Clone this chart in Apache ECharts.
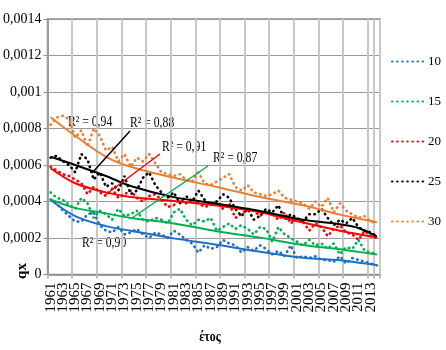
<!DOCTYPE html>
<html>
<head>
<meta charset="utf-8">
<script src="https://cdn.jsdelivr.net/npm/echarts@6/dist/echarts.min.js"></script>
<style>html,body{margin:0;padding:0;background:#fff}#c{width:446px;height:350px}</style>
</head>
<body>
<div id="c"></div>
<script>
// Categories (years)
const years = [];
for (let y = 1961; y <= 2014; y++) years.push(String(y));

// Data series (qx)
const q10 = [4.1e-4,3.9e-4,3.5e-4,3.2e-4,2.9e-4,2.9e-4,3.3e-4,3.4e-4,2.7e-4,2.4e-4,
  2.3e-4,2.6e-4,2.2e-4,2.3e-4,2.5e-4,2.2e-4,2.0e-4,2.3e-4,2.2e-4,2.0e-4,
  2.4e-4,2.2e-4,1.9e-4,1.7e-4,1.2e-4,1.6e-4,1.4e-4,1.5e-4,1.9e-4,1.7e-4,
  1.6e-4,1.2e-4,1.5e-4,1.3e-4,1.6e-4,1.4e-4,1.1e-4,1.3e-4,1.0e-4,1.6e-4,
  0.9e-4,1.0e-4,0.9e-4,1.0e-4,0.8e-4,0.8e-4,0.7e-4,1.0e-4,0.6e-4,0.9e-4,
  0.8e-4,0.7e-4,0.6e-4,0.5e-4];
const q15 = [4.5e-4,4.2e-4,4.1e-4,3.8e-4,3.6e-4,4.2e-4,3.9e-4,3.1e-4,3.5e-4,3.3e-4,
  3.0e-4,3.6e-4,3.2e-4,3.3e-4,3.5e-4,3.0e-4,2.9e-4,3.1e-4,3.0e-4,2.8e-4,
  3.4e-4,3.6e-4,3.0e-4,2.7e-4,3.0e-4,2.9e-4,3.1e-4,2.4e-4,2.6e-4,2.8e-4,
  2.5e-4,2.7e-4,2.5e-4,2.2e-4,2.6e-4,2.5e-4,1.8e-4,2.6e-4,2.2e-4,2.0e-4,
  1.8e-4,1.6e-4,1.9e-4,1.6e-4,1.7e-4,1.4e-4,1.7e-4,1.1e-4,1.5e-4,1.4e-4,
  1.9e-4,1.3e-4,1.2e-4,1.1e-4];
const q20 = [5.9e-4,5.7e-4,5.5e-4,5.4e-4,5.2e-4,5.0e-4,4.4e-4,4.8e-4,4.5e-4,4.3e-4,
  4.7e-4,4.2e-4,4.4e-4,4.6e-4,4.2e-4,4.0e-4,4.3e-4,4.4e-4,4.1e-4,3.7e-4,
  3.8e-4,4.1e-4,3.9e-4,4.2e-4,3.9e-4,3.7e-4,3.8e-4,4.0e-4,3.6e-4,3.9e-4,
  3.1e-4,3.3e-4,3.6e-4,3.5e-4,3.2e-4,3.5e-4,3.3e-4,3.0e-4,3.4e-4,2.8e-4,
  3.1e-4,2.9e-4,2.4e-4,2.8e-4,2.6e-4,2.1e-4,2.5e-4,2.7e-4,2.3e-4,2.2e-4,
  1.9e-4,2.4e-4,2.1e-4,2.0e-4];
const q25 = [6.4e-4,6.5e-4,6.2e-4,6.0e-4,5.6e-4,6.6e-4,6.3e-4,5.2e-4,5.6e-4,4.8e-4,
  5.0e-4,4.6e-4,5.4e-4,4.4e-4,4.6e-4,5.3e-4,5.6e-4,4.9e-4,4.5e-4,4.2e-4,
  4.5e-4,3.9e-4,4.3e-4,4.0e-4,4.6e-4,4.1e-4,3.8e-4,4.0e-4,4.4e-4,4.2e-4,
  3.6e-4,3.2e-4,3.6e-4,3.0e-4,3.2e-4,3.6e-4,3.4e-4,3.8e-4,3.0e-4,3.3e-4,
  3.1e-4,2.9e-4,3.3e-4,3.3e-4,3.6e-4,3.1e-4,2.7e-4,3.0e-4,2.8e-4,3.1e-4,
  2.6e-4,2.4e-4,2.3e-4,2.1e-4];
const q30 = [8.2e-4,8.6e-4,8.7e-4,8.5e-4,7.5e-4,7.9e-4,7.0e-4,8.0e-4,7.6e-4,6.8e-4,
  7.0e-4,6.2e-4,6.6e-4,5.9e-4,6.4e-4,6.2e-4,6.6e-4,6.1e-4,5.6e-4,5.5e-4,
  5.4e-4,5.5e-4,5.2e-4,5.1e-4,5.6e-4,5.0e-4,4.9e-4,5.1e-4,5.3e-4,5.5e-4,
  4.8e-4,4.6e-4,4.9e-4,4.5e-4,4.4e-4,4.3e-4,4.4e-4,4.6e-4,4.2e-4,4.1e-4,
  4.0e-4,3.9e-4,3.6e-4,4.0e-4,3.7e-4,4.2e-4,3.4e-4,3.9e-4,3.5e-4,3.3e-4,
  3.1e-4,3.2e-4,2.9e-4,2.8e-4];

// Trend lines at anchor years
const trendYears = ['1961','1965','1970','1974','1981','1988','1995','2002','2008','2011','2014'];
const t10 = [4.08e-4,3.2e-4,2.65e-4,2.4e-4,1.98e-4,1.63e-4,1.25e-4,0.92e-4,0.78e-4,0.65e-4,0.52e-4];
const t15 = [4.12e-4,3.65e-4,3.35e-4,3.1e-4,2.8e-4,2.37e-4,2.02e-4,1.62e-4,1.38e-4,1.24e-4,1.1e-4];
const t20 = [5.82e-4,5.0e-4,4.5e-4,4.25e-4,4.03e-4,3.78e-4,3.41e-4,2.85e-4,2.4e-4,2.21e-4,2.02e-4];
const t25 = [6.45e-4,6.0e-4,5.4e-4,4.85e-4,4.24e-4,3.88e-4,3.48e-4,3.0e-4,2.75e-4,2.55e-4,2.07e-4];
const t30 = [8.62e-4,7.6e-4,6.45e-4,5.9e-4,5.3e-4,4.8e-4,4.25e-4,3.79e-4,3.28e-4,3.07e-4,2.86e-4];

const names = ['10','15','20','25','30'];
const colors = ['#1F6FC5','#00B050','#FF0000','#000000','#ED7D31'];
const dataSets = [q10,q15,q20,q25,q30];
const trendSets = [t10,t15,t20,t25,t30];

const FONT = 'Liberation Serif';
const series = [];
dataSets.forEach((d, k) => {
  series.push({
    name: names[k], type: 'line', data: d, symbol: 'none', silent: true,
    color: colors[k],
    lineStyle: { color: colors[k], width: 2.6, type: [0.5, 4.6], cap: 'round' },
    z: 2
  });
});
trendSets.forEach((t, k) => {
  series.push({
    name: 'trend' + names[k], type: 'line', symbol: 'none', silent: true,
    data: trendYears.map((y, j) => [y, t[j]]),
    smooth: 0.35, connectNulls: true,
    lineStyle: { color: colors[k], width: 2 },
    z: 3
  });
});

function fmt(v) {
  if (v === 0) return '0';
  return String(+v.toFixed(4)).replace('.', ',');
}

const chart = echarts.init(document.getElementById('c'), null, { renderer: 'canvas' });
chart.setOption({
  animation: false,
  backgroundColor: '#ffffff',
  grid: { left: 43, right: 66, top: 19, bottom: 75.5, show: true, borderColor: '#8c8c8c', borderWidth: 1.5, backgroundColor: 'transparent' },
  legend: {
    data: names, orient: 'vertical', left: 391, top: 55, itemGap: 27,
    itemWidth: 33, itemHeight: 14, padding: 0,
    itemStyle: { opacity: 0 },
    textStyle: { fontFamily: FONT, fontSize: 13, color: '#000', padding: [0, 0, 0, -2] }
  },
  xAxis: {
    type: 'category', data: years, boundaryGap: true,
    axisLine: { lineStyle: { color: '#8c8c8c', width: 1.5 } },
    axisTick: { show: true, interval: 3, length: 4, lineStyle: { color: '#bfbfbf', width: 2 } },
    axisLabel: {
      interval: 0, showMinLabel: true, showMaxLabel: true, hideOverlap: false,
      formatter: (v, i) => (i % 2 === 0 ? v : ''),
      rotate: 90, margin: 8, fontFamily: FONT, fontSize: 15, lineHeight: 10, color: '#000'
    },
    splitLine: { show: true, interval: 3, lineStyle: { color: '#c8c8c8', width: 2 } }
  },
  yAxis: {
    type: 'value', min: 0, max: 0.0014, interval: 0.0002,
    axisLine: { show: true, lineStyle: { color: '#8c8c8c', width: 1.5 } },
    axisTick: { show: true, length: 4, lineStyle: { color: '#8c8c8c' } },
    axisLabel: { formatter: fmt, margin: 6, fontFamily: FONT, fontSize: 14, color: '#000' },
    splitLine: { show: true, lineStyle: { color: '#9a9a9a', width: 1 } }
  },
  graphic: [
    { type: 'text', x: 68, y: 122, scaleX: 0.78, style: { text: 'R² = 0,94', font: '15px ' + FONT, fill: '#000', textVerticalAlign: 'middle' } },
    { type: 'text', x: 130, y: 123, scaleX: 0.78, style: { text: 'R² = 0,88', font: '15px ' + FONT, fill: '#000', textVerticalAlign: 'middle' } },
    { type: 'text', x: 162, y: 147, scaleX: 0.78, style: { text: 'R² = 0,91', font: '15px ' + FONT, fill: '#000', textVerticalAlign: 'middle' } },
    { type: 'text', x: 213, y: 158, scaleX: 0.78, style: { text: 'R² = 0,87', font: '15px ' + FONT, fill: '#000', textVerticalAlign: 'middle' } },
    { type: 'text', x: 82, y: 243, scaleX: 0.78, style: { text: 'R² = 0,90', font: '15px ' + FONT, fill: '#000', textVerticalAlign: 'middle' } },
    { type: 'line', shape: { x1: 130, y1: 131, x2: 92, y2: 173 }, style: { stroke: '#000', lineWidth: 1.5 }, z: 10 },
    { type: 'line', shape: { x1: 160, y1: 154, x2: 105, y2: 195 }, style: { stroke: '#FF0000', lineWidth: 1.5 }, z: 10 },
    { type: 'line', shape: { x1: 208, y1: 166, x2: 132, y2: 218 }, style: { stroke: '#00B050', lineWidth: 1.5 }, z: 10 },
    { type: 'text', x: 22, y: 271, rotation: Math.PI / 2, style: { text: 'qx', font: 'bold 15px ' + FONT, fill: '#000', textAlign: 'center', textVerticalAlign: 'middle' } },
    { type: 'text', x: 210, y: 337, scaleX: 0.85, style: { text: 'έτος', font: 'bold 14px ' + FONT, fill: '#000', textAlign: 'center', textVerticalAlign: 'middle' } }
  ],
  series: series
});
</script>
</body>
</html>
